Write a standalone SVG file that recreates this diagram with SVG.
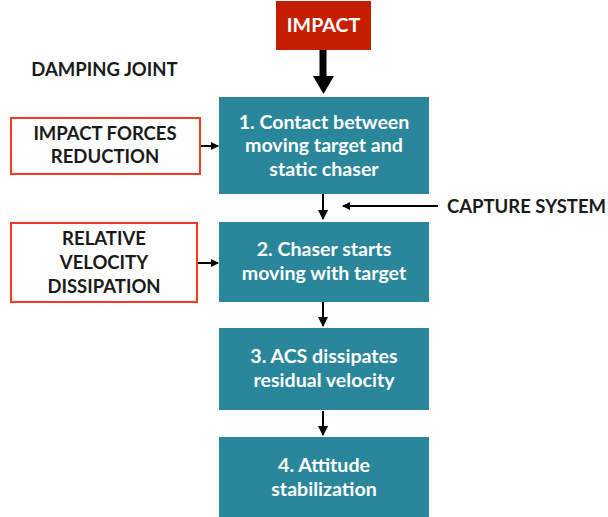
<svg xmlns="http://www.w3.org/2000/svg" width="608" height="517" viewBox="0 0 608 517">
<style>
.step{fill:#2a869b}
.wt{fill:#fff;font-family:Lato,"Liberation Sans",sans-serif;font-weight:bold;font-size:19.6px;text-anchor:middle}
.bt{fill:#1a1a1a;font-family:Lato,"Liberation Sans",sans-serif;font-weight:bold;font-size:18.5px;text-anchor:middle}
.red{fill:#fff;stroke:#f23a22;stroke-width:2}
.ln{stroke:#000;stroke-width:2;fill:none}
</style>
<defs>
<marker id="ah" markerWidth="8" markerHeight="8" refX="7" refY="4" orient="auto" markerUnits="userSpaceOnUse">
<path d="M0,0 L8,4 L0,8 Z" fill="#000"/>
</marker>
<marker id="ah2" markerWidth="10" markerHeight="10" refX="9" refY="5" orient="auto" markerUnits="userSpaceOnUse">
<path d="M0,0 L10,5 L0,10 Z" fill="#000"/>
</marker>
</defs>
<rect width="608" height="517" fill="#fff"/>
<g id="connectors">
<path d="M323,50 V78" stroke="#000" stroke-width="7"/>
<path d="M313,76 L334,76 L323.5,94 Z" fill="#000"/>
<line class="ln" x1="323" y1="194" x2="323" y2="219" marker-end="url(#ah2)"/>
<line class="ln" x1="323" y1="302" x2="323" y2="326" marker-end="url(#ah2)"/>
<line class="ln" x1="323" y1="411" x2="323" y2="435" marker-end="url(#ah2)"/>
<line class="ln" x1="438" y1="206" x2="343" y2="206" marker-end="url(#ah)"/>
<line class="ln" x1="200" y1="146" x2="218" y2="146" marker-end="url(#ah)"/>
<line class="ln" x1="197" y1="263" x2="218" y2="263" marker-end="url(#ah)"/>
</g>
<g id="impact">
<rect x="276" y="1" width="95" height="49" fill="#c41e00"/>
<text class="wt" x="323.5" y="32">IMPACT</text>
</g>
<g id="damping-joint">
<text class="bt" x="104.5" y="76">DAMPING JOINT</text>
</g>
<g id="step1">
<rect class="step" x="219" y="97" width="210" height="97"/>
<text class="wt" x="324" y="128.5">1. Contact between</text>
<text class="wt" x="324" y="152">moving target and</text>
<text class="wt" x="324" y="176">static chaser</text>
</g>
<g id="step2">
<rect class="step" x="219" y="222" width="210" height="80"/>
<text class="wt" x="324" y="256">2. Chaser starts</text>
<text class="wt" x="324" y="279.5">moving with target</text>
</g>
<g id="step3">
<rect class="step" x="219" y="328" width="210" height="82"/>
<text class="wt" x="324" y="363">3. ACS dissipates</text>
<text class="wt" x="324" y="387">residual velocity</text>
</g>
<g id="step4">
<rect class="step" x="219" y="437" width="210" height="80"/>
<text class="wt" x="324" y="472">4. Attitude</text>
<text class="wt" x="324" y="496">stabilization</text>
</g>
<g id="impact-forces">
<rect class="red" x="11" y="118" width="189" height="56"/>
<text class="bt" x="105" y="140">IMPACT FORCES</text>
<text class="bt" x="105" y="163">REDUCTION</text>
</g>
<g id="relative-velocity">
<rect class="red" x="11" y="223" width="186" height="79"/>
<text class="bt" x="104" y="245">RELATIVE</text>
<text class="bt" x="104" y="269">VELOCITY</text>
<text class="bt" x="104" y="293">DISSIPATION</text>
</g>
<g id="capture-system">
<text class="bt" x="526.5" y="213">CAPTURE SYSTEM</text>
</g>
</svg>
